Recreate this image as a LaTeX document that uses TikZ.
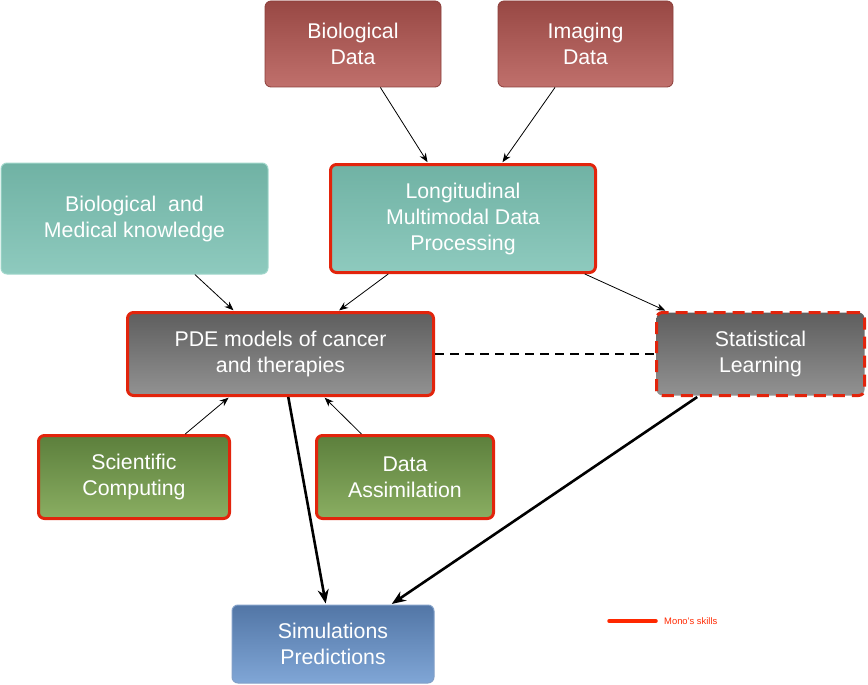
\documentclass[tikz,border=0pt]{standalone}
\usepackage{fontspec}
\setmainfont{Liberation Sans}
\usetikzlibrary{arrows.meta}
\definecolor{skill}{RGB}{226,36,12}
\definecolor{redtop}{RGB}{152,72,68}
\definecolor{redbot}{RGB}{192,112,108}
\definecolor{redline}{RGB}{140,62,58}
\definecolor{tealtop}{RGB}{112,178,164}
\definecolor{tealbot}{RGB}{142,202,190}
\definecolor{tealline}{RGB}{160,214,202}
\definecolor{greytop}{RGB}{94,94,94}
\definecolor{greybot}{RGB}{146,146,146}
\definecolor{greentop}{RGB}{92,127,60}
\definecolor{greenbot}{RGB}{138,174,98}
\definecolor{bluetop}{RGB}{82,118,166}
\definecolor{bluebot}{RGB}{128,166,214}
\definecolor{blueline}{RGB}{130,160,200}
\definecolor{legendred}{RGB}{255,40,0}
\tikzset{
  box/.style={rectangle, rounded corners=6pt, align=center, text=white,
    font=\fontsize{21.3}{26}\selectfont, inner sep=0pt},
  redbox/.style={box, top color=redtop, bottom color=redbot, draw=redline, line width=0.8pt},
  tealbox/.style={box, top color=tealtop, bottom color=tealbot, draw=tealline, line width=1pt},
  tealskill/.style={box, top color=tealtop, bottom color=tealbot, draw=skill, line width=3pt},
  greybox/.style={box, top color=greytop, bottom color=greybot, draw=skill, line width=3pt},
  greydash/.style={box, top color=greytop, bottom color=greybot, draw=skill, line width=3pt, dash pattern=on 12pt off 7pt},
  greenbox/.style={box, top color=greentop, bottom color=greenbot, draw=skill, line width=3pt},
  bluebox/.style={box, top color=bluetop, bottom color=bluebot, draw=blueline, line width=1pt},
  thinarrow/.style={-{Stealth[length=9pt,width=7pt]}, line width=0.8pt, shorten >=1pt},
  thickarrow/.style={-{Stealth[length=14pt,width=11pt]}, line width=2.6pt, shorten >=1pt},
}
\begin{document}
\begin{tikzpicture}[x=1pt,y=-1pt]
\useasboundingbox (0,0) rectangle (868,685);
\node[redbox, minimum width=176pt, minimum height=86pt] (bd) at (353,44) {Biological\\Data};
\node[redbox, minimum width=175pt, minimum height=86pt] (id) at (585.5,44) {Imaging\\Data};
\node[tealbox, minimum width=267pt, minimum height=111pt] (bk) at (134.5,218.5) {Biological~~and\\Medical knowledge};
\node[tealskill, minimum width=265pt, minimum height=108pt] (lm) at (463,218.5) {Longitudinal\\Multimodal Data\\Processing};
\node[greybox, minimum width=306pt, minimum height=83pt] (pde) at (280.5,354) {PDE models of cancer\\and therapies};
\node[greydash, minimum width=208pt, minimum height=83pt] (sl) at (760.5,354) {Statistical\\Learning};
\node[greenbox, minimum width=191pt, minimum height=83pt] (sc) at (134,477) {Scientific\\Computing};
\node[greenbox, minimum width=177pt, minimum height=83pt] (da) at (405,477) {Data\\Assimilation};
\node[bluebox, minimum width=202pt, minimum height=78pt] (sp) at (333,644) {Simulations\\Predictions};

\draw[thinarrow] (bd) -- (lm);
\draw[thinarrow] (id) -- (lm);
\draw[thinarrow] (bk) -- (pde);
\draw[thinarrow] (lm) -- (pde);
\draw[thinarrow] (lm) -- (sl);
\draw[thinarrow] (sc) -- (pde);
\draw[thinarrow] (da) -- (pde);
\draw[line width=1.8pt, dash pattern=on 9pt off 6pt] (pde) -- (sl);
\draw[thickarrow] (pde) -- (sp);
\draw[thickarrow] (sl) -- (sp);

\coordinate (la) at (609,621);
\coordinate (lb) at (656,621);
\draw[legendred, line width=3.5pt, line cap=round] (la) -- (lb);
\node[anchor=west, text=legendred, font=\fontsize{9.4}{11}\selectfont, inner sep=0pt] (lt) at (664,621) {Mono's skills};
\end{tikzpicture}
\end{document}
